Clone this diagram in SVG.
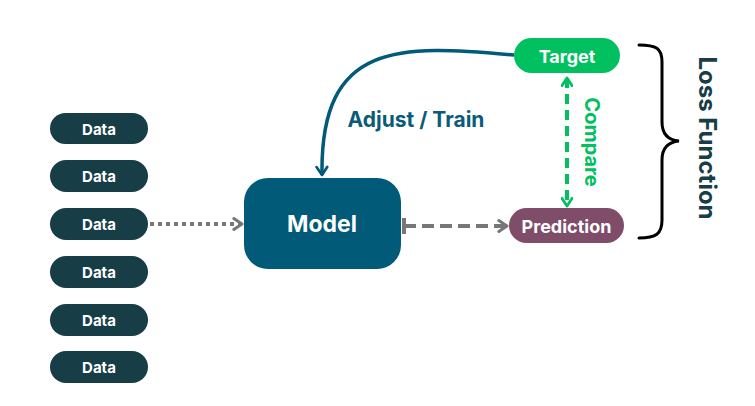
<svg xmlns="http://www.w3.org/2000/svg" width="755" height="406" viewBox="0 0 755 406">
<style>
.data rect{fill:#173d47}
.lbl{font-family:Inter,"Open Sans","Liberation Sans",sans-serif;font-weight:700;fill:#fff;text-anchor:middle;dominant-baseline:central}
.gray{fill:none;stroke:#777;stroke-width:4}
</style>
<defs>
<marker id="chevGray" viewBox="0 0 10 10" refX="8" refY="5" markerWidth="3.4" markerHeight="3.4" orient="auto" markerUnits="strokeWidth">
<path d="M2,1 L8,5 L2,9" fill="none" stroke="#777" stroke-width="2.2" stroke-linecap="round" stroke-linejoin="round"/>
</marker>
<marker id="chevGreen" viewBox="0 0 10 10" refX="8" refY="5" markerWidth="3.2" markerHeight="3.2" orient="auto-start-reverse" markerUnits="strokeWidth">
<path d="M2,1 L8,5 L2,9" fill="none" stroke="#00c060" stroke-width="2.2" stroke-linecap="round" stroke-linejoin="round"/>
</marker>
<marker id="chevBlue" viewBox="0 0 10 10" refX="8" refY="5" markerWidth="3.8" markerHeight="3.8" orient="auto" markerUnits="strokeWidth">
<path d="M2,1 L8,5 L2,9" fill="none" stroke="#005a78" stroke-width="2" stroke-linecap="round" stroke-linejoin="round"/>
</marker>
</defs>
<g id="connectors">
<line class="gray" x1="150" y1="224" x2="242" y2="224" stroke-dasharray="4,4" marker-end="url(#chevGray)"/>
<line x1="404" y1="218" x2="404" y2="234" stroke="#777" stroke-width="4"/>
<line class="gray" x1="404" y1="226" x2="507" y2="226" stroke-dasharray="12,6" marker-end="url(#chevGray)"/>
<line x1="567" y1="78" x2="567" y2="206" fill="none" stroke="#00c060" stroke-width="4" stroke-dasharray="10,6" marker-start="url(#chevGreen)" marker-end="url(#chevGreen)"/>
<path d="M514,55 C400,45 320,40 322,175" fill="none" stroke="#005a78" stroke-width="3.5" marker-end="url(#chevBlue)"/>
</g>
<g id="data1" class="data"><rect x="50" y="113" width="98" height="31" rx="15.5"/><text class="lbl" x="99" y="129" font-size="15">Data</text></g>
<g id="data2" class="data"><rect x="50" y="160" width="98" height="32" rx="16"/><text class="lbl" x="99" y="176.5" font-size="15">Data</text></g>
<g id="data3" class="data"><rect x="50" y="208" width="98" height="32" rx="16"/><text class="lbl" x="99" y="224.5" font-size="15">Data</text></g>
<g id="data4" class="data"><rect x="50" y="256" width="98" height="32" rx="16"/><text class="lbl" x="99" y="272" font-size="15">Data</text></g>
<g id="data5" class="data"><rect x="50" y="304" width="98" height="32" rx="16"/><text class="lbl" x="99" y="320" font-size="15">Data</text></g>
<g id="data6" class="data"><rect x="50" y="351" width="98" height="32" rx="16"/><text class="lbl" x="99" y="367" font-size="15">Data</text></g>
<g id="model"><rect x="244" y="178" width="157" height="91" rx="24" fill="#005a78"/><text class="lbl" x="322" y="224" font-size="23">Model</text></g>
<g id="target"><rect x="514" y="38" width="106" height="35" rx="17.5" fill="#00c060"/><text class="lbl" x="567" y="56" font-size="18">Target</text></g>
<g id="prediction"><rect x="509" y="208" width="115" height="35" rx="17.5" fill="#7f4c6a"/><text class="lbl" x="566.5" y="226" font-size="18">Prediction</text></g>
<g id="labels">
<text x="416" y="119" font-family="Inter,'Open Sans','Liberation Sans',sans-serif" font-weight="700" font-size="21" fill="#0a5a7a" text-anchor="middle" dominant-baseline="central">Adjust / Train</text>
<text transform="translate(592,142) rotate(90)" font-family="Inter,'Open Sans','Liberation Sans',sans-serif" font-weight="700" font-size="20" fill="#00c060" text-anchor="middle" dominant-baseline="central">Compare</text>
<text transform="translate(707,138) rotate(90)" font-family="Inter,'Open Sans','Liberation Sans',sans-serif" font-weight="700" font-size="24" fill="#173d47" text-anchor="middle" dominant-baseline="central">Loss Function</text>
</g>
<g id="brace">
<path d="M639,45 C656,45 662,48 662,62 L662,122 C662,134 668,140 679,141 C668,142 662,148 662,160 L662,220 C662,234 656,238 639,238" fill="none" stroke="#000" stroke-width="3" stroke-linecap="round"/>
</g>
</svg>
